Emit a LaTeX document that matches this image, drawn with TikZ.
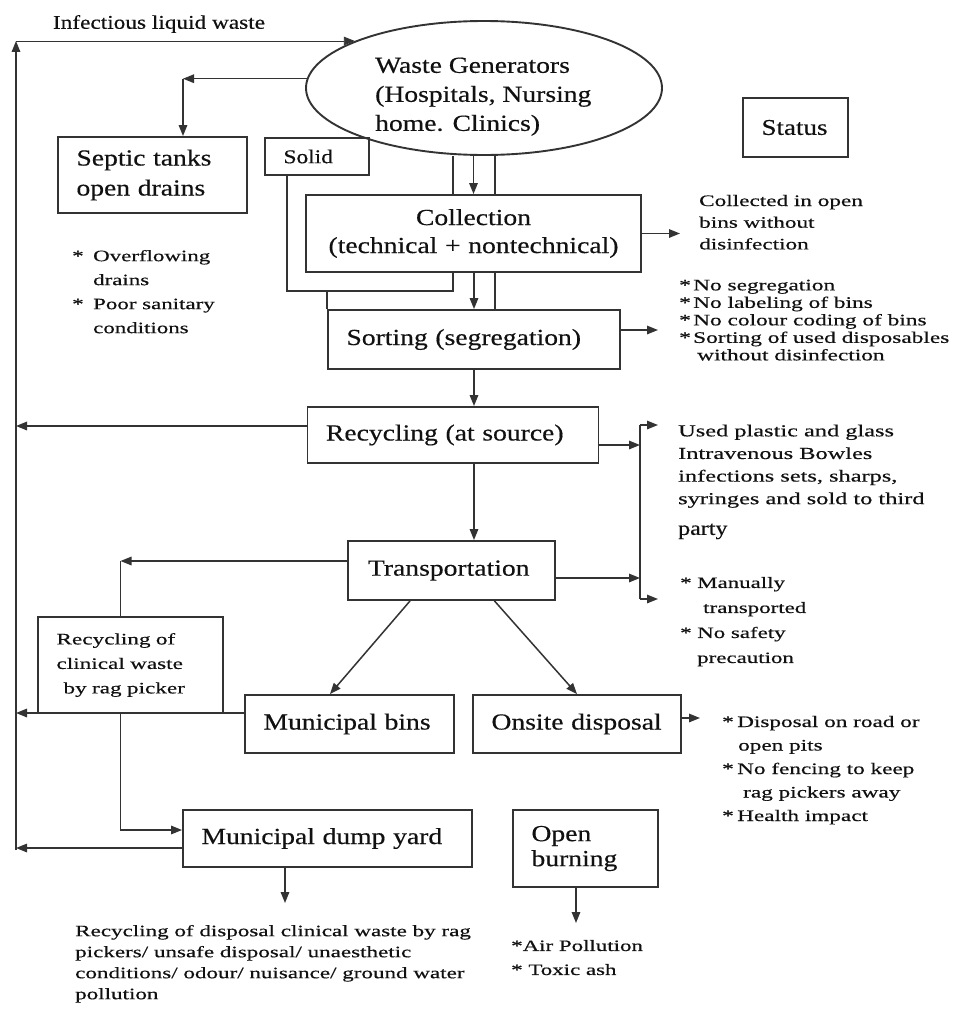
\documentclass[tikz,border=0pt]{standalone}
\usepackage{fontspec}
\setmainfont{Liberation Serif}[FakeStretch=1.2, FakeBold=0.4]
\newfontfamily\notefam{Liberation Serif}[FakeStretch=1.45, FakeBold=0.4]
\usetikzlibrary{shapes.geometric,arrows.meta}
\definecolor{ink}{HTML}{333333}
\definecolor{txt}{HTML}{111111}
\newcommand\bigtxt{\fontsize{23}{29}\selectfont}
\newcommand\notesz[2]{\notefam\fontsize{#1}{#2}\selectfont}
\newlength\bulw
\newcommand\bul{\makebox[\bulw][l]{*}}
\newcommand\hang{\hspace*{\bulw}}

\begin{document}
\begin{tikzpicture}[x=1pt,y=-1pt,
  flowbox/.style={draw=ink, line width=1.9pt, inner ysep=0pt, inner xsep=18.5pt,
                  align=left, text=txt},
  notestyle/.style={anchor=north west, inner sep=0pt, align=left, text=txt},
  ln/.style={draw=ink, line width=1.5pt},
  arr/.style={draw=ink, line width=1.5pt, -{Triangle[length=11pt,width=8.5pt]}}]

\fill[white] (0,0) rectangle (960,1012);
\useasboundingbox (0,0) rectangle (960,1012);

% ---------- main boxes ----------
\node[draw=ink, line width=1.9pt, ellipse, minimum width=356pt, minimum height=134pt,
      inner sep=0pt] (gen) at (484,88) {};
\node[notestyle, font=\bigtxt] (gentxt) at (375,57.4)
  {Waste Generators\\(Hospitals, Nursing\\home. Clinics)};

\node[flowbox, minimum width=189pt, minimum height=76pt, text width=152pt,
      font=\fontsize{23}{30}\selectfont] (septic) at (152.5,175) {Septic tanks\\open drains};
\node[flowbox, minimum width=104pt, minimum height=37pt, text width=67pt,
      font=\fontsize{19.5}{24}\selectfont] (solid) at (317,156.5) {Solid};
\node[flowbox, minimum width=105pt, minimum height=59pt, text width=68pt,
      font=\fontsize{22.5}{28}\selectfont] (status) at (795.5,127.5) {Status};

\node[flowbox, align=center, minimum width=335pt, minimum height=77pt, text width=298pt,
      font=\fontsize{23}{28}\selectfont] (coll) at (473.5,233.5)
  {Collection\\(technical + nontechnical)};
\node[flowbox, minimum width=292pt, minimum height=59pt, text width=255pt, font=\bigtxt]
  (sort) at (474,339.5) {Sorting (segregation)};
\node[flowbox, minimum width=291pt, minimum height=56pt, text width=254pt, font=\bigtxt]
  (recyc) at (453,435) {Recycling (at source)};
\node[flowbox, inner xsep=20pt, minimum width=207pt, minimum height=59pt, text width=167pt,
      font=\bigtxt] (trans) at (451.5,570.5) {Transportation};

\node[flowbox, minimum width=185pt, minimum height=96pt, text width=148pt,
      font=\notesz{16}{24.5}] (rag) at (130.5,665)
  {Recycling of\\clinical waste\\\hspace*{7pt}by rag picker};
\node[flowbox, minimum width=209pt, minimum height=58pt, text width=172pt, font=\bigtxt]
  (bins) at (349.5,724) {Municipal bins};
\node[flowbox, minimum width=208pt, minimum height=58pt, text width=171pt, font=\bigtxt]
  (onsite) at (577,724) {Onsite disposal};
\node[flowbox, minimum width=289pt, minimum height=57pt, text width=252pt, font=\bigtxt]
  (dump) at (327.5,838.5) {Municipal dump yard};
\node[flowbox, minimum width=145pt, minimum height=77pt, text width=108pt,
      font=\fontsize{23}{25}\selectfont] (burn) at (585.5,848.5) {Open\\burning};

% ---------- status notes ----------
\node[text=txt, inner sep=0pt, font=\fontsize{19.4}{24}\selectfont] (liquid) at (159,24)
  {Infectious liquid waste};
\node[notestyle, font=\notesz{16}{21.7}] (collnote) at (699,194.7)
  {Collected in open\\bins without\\disinfection};
\node[notestyle, font={\notesz{15.8}{24}\setlength\bulw{21pt}}] (sepnote) at (72,249.8)
  {\bul Overflowing\\\hang drains\\\bul Poor sanitary\\\hang conditions};
\node[notestyle, font={\notesz{16.1}{17.5}\setlength\bulw{14pt}}] (sortnote) at (679,279.5)
  {\bul No segregation\\\bul No labeling of bins\\\bul No colour coding of bins\\
   \bul Sorting of used disposables\\\hang\hspace*{4pt}without disinfection};
\node[notestyle, font=\notesz{16.8}{22.6}] (usednote) at (678,424.5)
  {Used plastic and glass\\Intravenous Bowles\\infections sets, sharps,\\
   syringes and sold to third};
\node[notestyle, font=\fontsize{20}{24}\selectfont] (party) at (678,523.4) {party};
\node[notestyle, font={\notesz{15.8}{25}\setlength\bulw{17pt}}] (transnote) at (680,576.8)
  {\bul Manually\\\hang\hspace*{6pt}transported\\\bul No safety\\\hang precaution};
\node[notestyle, font={\notesz{16}{23.5}\setlength\bulw{15pt}}] (onsitenote) at (722,715.7)
  {\bul Disposal on road or\\\hang\hspace*{1pt}open pits\\\bul No fencing to keep\\
   \hang\hspace*{6pt}rag pickers away\\\bul Health impact};
\node[notestyle, font=\notesz{15.9}{21}] (dumpnote) at (75,924.8)
  {Recycling of disposal clinical waste by rag\\pickers/ unsafe disposal/ unaesthetic\\
   conditions/ odour/ nuisance/ ground water\\pollution};
\node[notestyle, font=\notesz{15.8}{24}] (burnnote) at (511,939.8)
  {*Air Pollution\\* Toxic ash};

% ---------- guide coordinates ----------
\coordinate (lb) at (16,850);
\coordinate (lt) at (gen.160 -| lb);
\coordinate (scx) at (183,0);
\coordinate (c1) at (453,0);
\coordinate (c2) at (495,0);
\coordinate (s1) at (287,0);
\coordinate (s2) at (0,291);
\coordinate (ax) at (474,0);
\coordinate (a1) at (680,0);
\coordinate (a2) at (658,0);
\coordinate (bt) at (640,425);
\coordinate (bb) at (640,599);
\coordinate (btE) at (658,425);
\coordinate (bbE) at (658,599);
\coordinate (rx) at (120.5,0);
\coordinate (ox) at (700,0);
\coordinate (dt) at (285,903);
\coordinate (bnt) at (576,923);

% ---------- connectors ----------
% liquid waste loop back to the generators
\draw[arr] (lb) -- (lt);
\draw[arr, line width=0.9pt] (lt) -- (gen.160);
% generators to septic tanks
\draw[arr] (gen.177) -- (gen.177 -| scx);
\draw[arr] (gen.177 -| scx) -- (scx |- septic.north);
% generators to collection
\draw[arr] (gen.south -| coll.north) -- (coll.north);
\draw[ln] (gen.south -| c1) -- (c1 |- coll.north);
\draw[ln] (gen.south -| c2) -- (c2 |- coll.north);
% solid waste route
\draw[ln] (solid.south -| s1) |- (c1 |- s2) -- (c1 |- coll.south);
\draw[ln] (sort.north west) -- (sort.north west |- s2);
% collection to sorting
\draw[arr] (coll.south -| ax) -- (ax |- sort.north);
\draw[ln] (c2 |- coll.south) -- (c2 |- sort.north);
% main chain
\draw[arr] (sort.south -| ax) -- (ax |- recyc.north);
\draw[arr] (recyc.south -| ax) -- (ax |- trans.north);
% status arrows
\draw[arr] (coll.east) -- (coll.east -| a1);
\draw[arr] ([yshift=9.5pt]sort.east) -- ([yshift=9.5pt]sort.east -| a2);
\draw[ln] (bt) -- (bb);
\draw[arr] (bt) -- (btE);
\draw[arr] (bb) -- (bbE);
\draw[arr] ([yshift=-10pt]recyc.east) -- ([yshift=-10pt]recyc.east -| bt);
\draw[arr] ([yshift=-7.5pt]trans.east) -- ([yshift=-7.5pt]trans.east -| bt);
% recycling back to the loop
\draw[arr] ([yshift=9pt]recyc.west) -- ([yshift=9pt]recyc.west -| lb);
% transportation to rag pickers
\coordinate (tl2) at ([yshift=9.5pt]trans.west -| rx);
\draw[arr] ([yshift=9.5pt]trans.west) -- (tl2);
\draw[ln] (tl2) -- (tl2 |- rag.north);
% transportation to bins and onsite disposal
\draw[arr] ([xshift=-41.5pt]trans.south) -- ([xshift=-19.5pt]bins.north);
\draw[arr] ([xshift=43pt]trans.south) -- (onsite.north);
% bins back to the loop
\draw[arr] ([yshift=11pt]bins.west) -- ([yshift=11pt]bins.west -| lb);
% onsite disposal status
\draw[arr] ([yshift=6pt]onsite.east) -- ([yshift=6pt]onsite.east -| ox);
% rag pickers to dump yard
\draw[arr] (rx |- rag.south) |- ([yshift=8.5pt]dump.west);
% dump yard back to the loop and down to its status
\draw[arr] ([yshift=-9.5pt]dump.west) -- ([yshift=-9.5pt]dump.west -| lb);
\draw[arr] (dt |- dump.south) -- (dt);
\draw[arr] (bnt |- burn.south) -- (bnt);
\end{tikzpicture}
\end{document}
